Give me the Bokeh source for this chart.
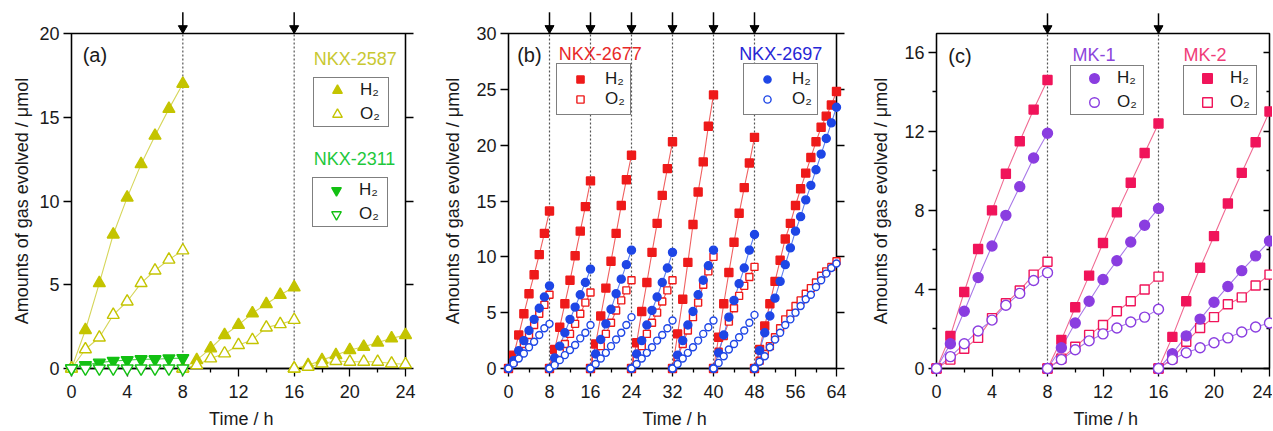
from bokeh.plotting import figure
from bokeh.layouts import row
from bokeh.models import (Range1d, FixedTicker, LinearAxis, Legend, LegendItem,
                          Label)
from bokeh.core.properties import value
from bokeh.embed import file_html
from bokeh.resources import INLINE

FONT = "Liberation Sans"

# ---------------- data ----------------
# panel (a)
a_starts = [0, 8, 16]
nkx2587_h2 = [[0, 2.3, 5.1, 8.0, 10.2, 12.2, 13.9, 15.5, 17.0],
              [0, 0.5, 1.2, 2.0, 2.6, 3.3, 3.85, 4.4, 4.85],
              [0, 0.2, 0.5, 0.8, 1.1, 1.3, 1.55, 1.8, 2.0]]
nkx2587_o2 = [[0, 1.15, 1.85, 3.2, 4.0, 5.1, 5.85, 6.5, 7.05],
              [0, 0.2, 0.6, 0.9, 1.4, 1.7, 2.45, 2.65, 2.9],
              [0, 0.1, 0.3, 0.45, 0.4, 0.4, 0.4, 0.3, 0.25]]
nkx2311_h2 = [[0, 0.2, 0.35, 0.45, 0.5, 0.55, 0.55, 0.6, 0.62]]
nkx2311_o2 = [[0, 0, 0, 0, 0, 0, 0, 0, 0]]

# panel (b)
b_starts = [0, 8, 16, 24, 32, 40, 48]
nkx2677_h2 = [[0, 1.2, 3.0, 4.9, 6.7, 8.4, 10.2, 12.1, 14.1],
              [0, 1.7, 3.7, 5.8, 7.9, 10.1, 12.3, 14.5, 16.8],
              [0, 2.2, 4.7, 7.2, 9.6, 12.1, 14.6, 16.9, 19.1],
              [0, 2.3, 5.1, 7.7, 10.4, 13.0, 15.5, 17.9, 20.3],
              [0, 3.1, 6.2, 9.5, 12.9, 15.8, 18.5, 21.7, 24.5],
              [0, 2.8, 5.8, 8.6, 11.3, 13.9, 16.2, 18.4, 20.7],
              [0, 1.7, 3.8, 5.8, 7.8, 9.7, 11.6, 13.0, 14.6, 16.1, 17.5, 18.9,
               20.3, 21.6, 22.6, 23.6, 24.8]]
nkx2677_o2 = [[0, 0.6, 1.3, 2.2, 3.0, 3.9, 4.9, 5.7, 6.6],
              [0, 0.6, 1.4, 2.2, 3.1, 4.0, 4.9, 5.9, 6.8],
              [0, 0.9, 2.0, 3.1, 4.1, 5.2, 6.1, 7.0, 7.9],
              [0, 0.9, 2.0, 3.1, 4.1, 5.0, 6.0, 7.0, 7.9],
              [0, 1.0, 2.2, 3.4, 4.6, 5.9, 7.5, 8.7, 10.0],
              [0, 1.5, 2.9, 4.2, 5.4, 6.5, 7.4, 8.2, 9.1],
              [0, 0.7, 1.3, 2.0, 2.8, 3.6, 4.4, 4.9, 5.6, 6.1, 6.7, 7.2,
               7.7, 8.3, 8.7, 9.1, 9.6]]
nkx2697_h2 = [[0, 0.7, 1.6, 2.5, 3.4, 4.4, 5.4, 6.4, 7.4],
              [0, 0.95, 2.0, 3.2, 4.4, 5.5, 6.6, 7.7, 8.9],
              [0, 1.3, 2.6, 4.0, 5.3, 6.7, 8.0, 9.3, 10.6],
              [0, 1.3, 2.5, 3.9, 5.2, 6.4, 7.7, 9.0, 10.4],
              [0, 1.2, 2.5, 3.9, 5.1, 6.6, 7.9, 9.2, 10.6],
              [0, 1.4, 3.0, 4.6, 6.1, 7.6, 9.0, 10.6, 12.0],
              [0, 1.6, 3.2, 4.7, 6.3, 7.8, 9.3, 10.8, 12.3, 13.6, 15.1, 16.4,
               17.8, 19.2, 20.6, 22.0, 23.4]]
nkx2697_o2 = [[0, 0.45, 0.9, 1.35, 1.9, 2.4, 3.0, 3.6, 4.0],
              [0, 0.3, 0.75, 1.2, 1.65, 2.1, 2.7, 3.2, 3.9],
              [0, 0.4, 0.9, 1.4, 2.0, 2.6, 3.2, 3.9, 4.6],
              [0, 0.4, 0.9, 1.4, 1.9, 2.5, 3.0, 3.6, 4.3],
              [0, 0.4, 0.9, 1.4, 1.9, 2.5, 3.1, 3.7, 4.3],
              [0, 0.5, 1.1, 1.7, 2.2, 2.8, 3.4, 4.1, 4.8],
              [0, 0.6, 1.1, 1.9, 2.6, 3.2, 3.9, 4.4, 5.0, 5.6, 6.2, 6.6,
               7.3, 7.9, 8.5, 9.0, 9.4]]

# panel (c)
c_starts = [0, 8, 16]
mk2_h2 = [[0, 1.65, 3.87, 6.05, 8.0, 9.85, 11.5, 13.1, 14.6],
          [0, 1.45, 3.1, 4.7, 6.35, 7.9, 9.4, 10.9, 12.4],
          [0, 1.6, 3.4, 5.1, 6.7, 8.35, 9.9, 11.45, 13.0]]
mk1_h2 = [[0, 1.25, 2.9, 4.6, 6.2, 7.75, 9.2, 10.65, 11.9],
          [0, 1.05, 2.3, 3.4, 4.5, 5.45, 6.4, 7.25, 8.1],
          [0, 0.75, 1.65, 2.5, 3.35, 4.15, 4.95, 5.7, 6.45]]
mk2_o2 = [[0, 0.45, 1.0, 1.55, 2.55, 3.3, 3.95, 4.75, 5.4],
          [0, 0.5, 1.1, 1.7, 2.2, 2.9, 3.4, 4.0, 4.65],
          [0, 0.5, 1.35, 2.05, 2.6, 3.25, 3.6, 4.2, 4.75]]
mk1_o2 = [[0, 0.6, 1.25, 1.9, 2.45, 3.2, 3.8, 4.45, 4.85],
          [0, 0.45, 0.95, 1.4, 1.75, 2.05, 2.35, 2.6, 3.0],
          [0, 0.45, 0.8, 1.05, 1.3, 1.55, 1.85, 2.1, 2.3]]

a_xticks = [0, 4, 8, 12, 16, 20, 24]
a_yticks = [0, 5, 10, 15, 20]
b_xticks = [0, 8, 16, 24, 32, 40, 48, 56, 64]
b_yticks = [0, 5, 10, 15, 20, 25, 30]
c_xticks = [0, 4, 8, 12, 16, 20, 24]
c_yticks = [0, 4, 8, 12, 16]
a_arrows = [8, 16]
b_arrows = [8, 16, 24, 32, 40, 48]
c_arrows = [8, 16]

YELLOW, YELLOW_L = "#c4c400", "#d6d65a"
GREEN, GREEN_L = "#12c012", "#50cc50"
RED, RED_L = "#ee1a1a", "#f06060"
BLUE, BLUE_L = "#1e46e6", "#6080f0"
PURPLE, PURPLE_L = "#8a3de0", "#a878e8"
PINK, PINK_L = "#f0145a", "#f06a92"
TXT = "#1a1a1a"


def make_fig(width, bl, br, xmax, ymax, xt, xmt, yt, ymt, ystand,
             xlab_x, xlab_y, right_in=False):
    p = figure(width=width, height=430, x_range=Range1d(0, xmax),
               y_range=Range1d(0, ymax), output_backend="svg",
               toolbar_location=None, min_border_left=bl, min_border_right=br,
               min_border_top=33, min_border_bottom=62)
    p.grid.visible = False
    p.outline_line_color = "black"
    p.outline_line_width = 1.3
    p.background_fill_color = "white"
    p.border_fill_color = "white"
    p.xaxis.ticker = FixedTicker(ticks=xt, minor_ticks=xmt)
    p.yaxis.ticker = FixedTicker(ticks=yt, minor_ticks=ymt)
    p.yaxis.axis_label = "Amounts of gas evolved / \u03bcmol"
    right = LinearAxis(ticker=FixedTicker(ticks=yt, minor_ticks=ymt))
    p.add_layout(right, "right")
    for ax in [p.xaxis[0], p.yaxis[0], right]:
        ax.axis_line_width = 1.3
        ax.axis_line_color = "black"
        ax.major_tick_line_width = 1.3
        ax.minor_tick_line_width = 1.3
        ax.major_tick_out = 8
        ax.major_tick_in = 0
        ax.minor_tick_out = 4
        ax.minor_tick_in = 0
        ax.major_label_text_font = FONT
        ax.major_label_text_font_size = "18px"
        ax.major_label_text_color = TXT
        ax.major_label_standoff = 4
        ax.axis_label_text_font = FONT
        ax.axis_label_text_font_size = "18px"
        ax.axis_label_text_font_style = "normal"
        ax.axis_label_text_color = TXT
    p.xaxis[0].major_label_standoff = 8
    p.yaxis[0].axis_label_standoff = ystand
    right.major_label_overrides = {t: "" for t in yt}
    right.major_label_standoff = 0
    if right_in:
        right.major_tick_out = 0
        right.major_tick_in = 6
        right.minor_tick_out = 0
        right.minor_tick_in = 3
    # x-axis title drawn as text below the frame
    p.text(x=[xlab_x], y=[xlab_y], text=["Time / h"], text_align="center",
           text_baseline="middle", text_font=value(FONT),
           text_font_size="18px", text_color=TXT, level="overlay")
    return p


def series(p, starts, segs, color, lcolor, marker, size, filled):
    xs, ys = [], []
    for s, vals in zip(starts, segs):
        ts = [s + i for i in range(len(vals))]
        p.line(ts, vals, line_color=lcolor, line_width=1.1)
        xs += ts
        ys += vals
    return p.scatter(xs, ys, marker=marker, size=size,
                     fill_color=color if filled else "white",
                     line_color=color, line_width=1.4, level="overlay")


def guides(p, times, ytop, yarrow, yhead):
    p.segment(x0=times, y0=[0] * len(times), x1=times, y1=[ytop] * len(times),
              line_color="#555555", line_width=1.2, line_dash="2 2")
    p.segment(x0=times, y0=[ytop] * len(times), x1=times,
              y1=[yarrow] * len(times), line_color="black", line_width=1.5,
              level="overlay")
    p.scatter(times, [yhead] * len(times), marker="inverted_triangle", size=9,
              fill_color="black", line_color="black", level="overlay")


def legend(p, items, loc, pad, gw, gh, lw, ls):
    lg = Legend(items=[LegendItem(label=l, renderers=[r]) for l, r in items],
                location=loc, orientation="vertical", border_line_color="black",
                border_line_width=1.5, background_fill_color="white",
                background_fill_alpha=1, label_text_font=FONT,
                label_text_font_size="17px", label_text_color=TXT,
                glyph_width=gw, glyph_height=gh, label_width=lw,
                label_height=gh, label_standoff=ls, padding=pad, spacing=0,
                margin=0, level="overlay")
    p.add_layout(lg, "center")


def label(p, x, y, text, color, size):
    p.add_layout(Label(x=x, y=y, text=text, text_color=color,
                       text_font=FONT, text_font_size=size,
                       text_baseline="top", text_align="left"))


# ---------------- panel (a) ----------------
pa = make_fig(440, 71, 35, 24, 20, a_xticks, [2, 6, 10, 14, 18, 22],
              a_yticks, [], 4, 12.2, -3.03)
guides(pa, a_arrows, 20, 21.27, 20.31)
ra1 = series(pa, a_starts, nkx2587_h2, YELLOW, YELLOW_L, "triangle", 12, True)
ra2 = series(pa, a_starts, nkx2587_o2, YELLOW, YELLOW_L, "triangle", 12, False)
ra3 = series(pa, [0], nkx2311_h2, GREEN, GREEN_L, "inverted_triangle", 12, True)
ra4 = series(pa, [0], nkx2311_o2, GREEN, GREEN_L, "inverted_triangle", 12, False)
legend(pa, [("H\u2082", ra1), ("O\u2082", ra2)], (242, 241), 0, 46, 24, 28, 0)
legend(pa, [("H\u2082", ra3), ("O\u2082", ra4)], (241, 141), 0, 46, 24, 28, 0)
label(pa, 0.8, 19.35, "(a)", TXT, "20px")
label(pa, 17.4, 19.05, "NKX-2587", "#c8c832", "18px")
label(pa, 17.4, 13.08, "NKX-2311", "#1ec83c", "18px")

# ---------------- panel (b) ----------------
pb = make_fig(428, 61, 32, 64, 30, b_xticks, [4, 12, 20, 28, 36, 44, 52, 60],
              b_yticks, [], 10, 32.4, -4.54)
guides(pb, b_arrows, 30, 31.9, 30.47)
rb1 = series(pb, b_starts, nkx2677_h2, RED, RED_L, "square", 8, True)
rb2 = series(pb, b_starts, nkx2677_o2, RED, RED_L, "square", 7, False)
rb3 = series(pb, b_starts, nkx2697_h2, BLUE, BLUE_L, "circle", 8, True)
rb4 = series(pb, b_starts, nkx2697_o2, BLUE, BLUE_L, "circle", 7, False)
legend(pb, [("H\u2082", rb1), ("O\u2082", rb2)], (48, 253), 5, 36, 18, 20, 7)
legend(pb, [("H\u2082", rb3), ("O\u2082", rb4)], (235, 253), 5, 36, 18, 20, 7)
label(pb, 1.7, 29.05, "(b)", TXT, "20px")
label(pb, 9.8, 29.05, "NKX-2677", "#e82828", "18px")
label(pb, 45.0, 29.05, "NKX-2697", "#2626d6", "18px")

# ---------------- panel (c) ----------------
pc = make_fig(404, 67, 3, 24, 16.95, c_xticks, [2, 6, 10, 14, 18, 22],
              c_yticks, [2, 6, 10, 14], 10, 12.2, -2.56, right_in=True)
guides(pc, c_arrows, 16.95, 17.97, 17.21)
rc1 = series(pc, c_starts, mk2_h2, PINK, PINK_L, "square", 9, True)
rc2 = series(pc, c_starts, mk2_o2, PINK, PINK_L, "square", 9, False)
rc3 = series(pc, c_starts, mk1_h2, PURPLE, PURPLE_L, "circle", 10, True)
rc4 = series(pc, c_starts, mk1_o2, PURPLE, PURPLE_L, "circle", 10, False)
legend(pc, [("H\u2082", rc3), ("O\u2082", rc4)], (134, 253), 0, 46, 24, 26, 0)
legend(pc, [("H\u2082", rc1), ("O\u2082", rc2)], (247, 253), 0, 46, 24, 26, 0)
label(pc, 0.85, 16.35, "(c)", TXT, "20px")
label(pc, 9.8, 16.35, "MK-1", "#8c46dc", "18px")
label(pc, 17.8, 16.35, "MK-2", "#f03c78", "18px")

layout = row(pa, pb, pc)
open("out.html", "w").write(file_html(layout, INLINE))
